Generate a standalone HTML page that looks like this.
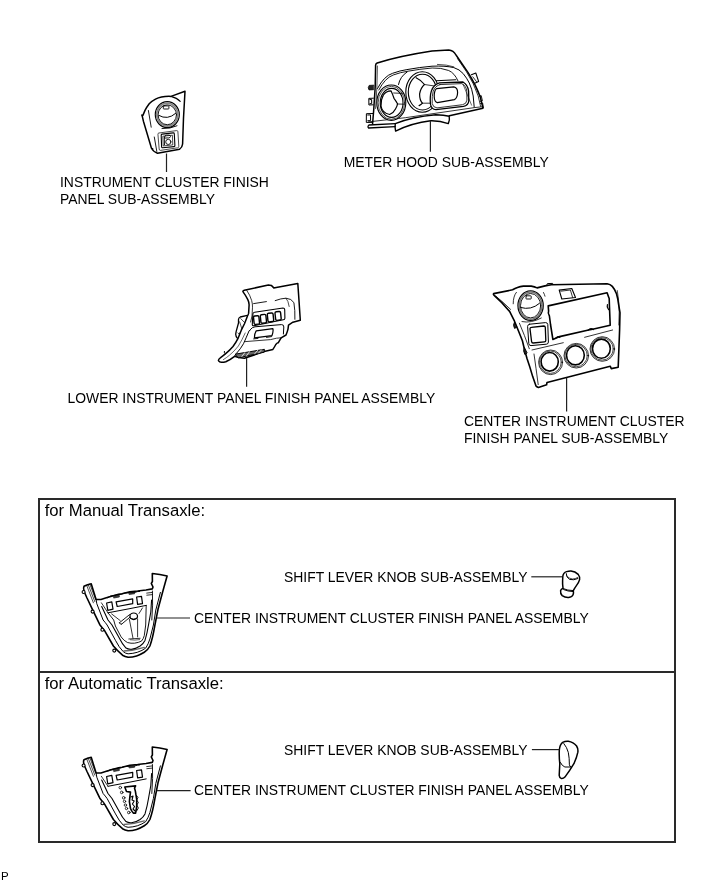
<!DOCTYPE html>
<html><head><meta charset="utf-8">
<style>
html,body{margin:0;padding:0;background:#fff;}
body{width:713px;height:882px;position:relative;overflow:hidden;will-change:transform;font-family:"Liberation Sans",sans-serif;color:#000;}
.t{position:absolute;white-space:nowrap;font-size:13.9px;line-height:13.9px;}
.h{position:absolute;white-space:nowrap;font-size:16.7px;line-height:16.7px;}
#box{position:absolute;left:38px;top:498px;width:634px;height:341px;border:2px solid #2a2a2a;}
#div{position:absolute;left:38px;top:671px;width:638px;height:2px;background:#2a2a2a;}
svg{position:absolute;left:0;top:0;}
</style></head><body>
<div id="box"></div>
<div id="div"></div>

<div class="t" style="left:60px;top:175.9px">INSTRUMENT CLUSTER FINISH</div>
<div class="t" style="left:60px;top:193.0px">PANEL SUB-ASSEMBLY</div>
<div class="t" style="left:343.7px;top:155.9px">METER HOOD SUB-ASSEMBLY</div>
<div class="t" style="left:67.5px;top:392.1px">LOWER INSTRUMENT PANEL FINISH PANEL ASSEMBLY</div>
<div class="t" style="left:464px;top:415.1px">CENTER INSTRUMENT CLUSTER</div>
<div class="t" style="left:464px;top:432.1px">FINISH PANEL SUB-ASSEMBLY</div>
<div class="h" style="left:44.7px;top:502.6px">for Manual Transaxle:</div>
<div class="t" style="left:284px;top:570.9px">SHIFT LEVER KNOB SUB-ASSEMBLY</div>
<div class="t" style="left:194px;top:612.3px">CENTER INSTRUMENT CLUSTER FINISH PANEL ASSEMBLY</div>
<div class="h" style="left:44.7px;top:676.3px">for Automatic Transaxle:</div>
<div class="t" style="left:284px;top:743.9px">SHIFT LEVER KNOB SUB-ASSEMBLY</div>
<div class="t" style="left:194px;top:783.8px">CENTER INSTRUMENT CLUSTER FINISH PANEL ASSEMBLY</div>
<div class="t" style="left:1px;top:871.1px;font-size:11.5px;line-height:11.5px">P</div>

<svg width="713" height="882" viewBox="0 0 713 882" fill="none" stroke="#000" stroke-width="1.1" stroke-linejoin="round" stroke-linecap="round">
<!-- P1 instrument cluster finish panel -->
<g id="p1">
<path d="M185,91.3 L171,96.4 C166,96.2 160,96.8 155.5,99.2 C152.5,100.8 150.6,102.4 149.2,103.8 C147.2,106.5 145.8,108.8 145,110.4 L142.9,115.4 L141.8,115.1 L142.3,116.4 L143.5,121.5 L151.4,148 C152.5,150.3 154.5,152 157.5,153.3 L179.6,149.2 C181.4,148 182.4,146.2 182.6,144 L183.5,118 Z" stroke-width="1.5"/>
<path d="M171,96.4 C175,97.4 178,99 180.2,101.4"/>
<path d="M148.4,110.5 L151.2,127.2 M154.3,137 L156.8,151.4" stroke-width="0.9"/>
<path d="M151.4,148 L152.8,148.8" stroke-width="1.2"/>
<ellipse cx="167.3" cy="114.6" rx="12" ry="12.9" stroke-width="1.2"/>
<ellipse cx="167.3" cy="114.6" rx="10.6" ry="11.4" stroke="#888" stroke-width="1.8"/>
<ellipse cx="167.3" cy="114.8" rx="9.2" ry="9.9" stroke-width="0.9"/>
<path d="M158.8,115.4 Q167.5,120.5 175.6,113.4" stroke-width="1"/>
<rect x="163.3" y="105.9" width="5.6" height="3.1" rx="0.6" stroke-width="0.9"/>
<path d="M162,128.6 Q170,129 177,125.8" stroke-width="0.9"/>
<path d="M157.9,134 Q157.8,133.2 158.8,133 L176.6,130.6 Q177.8,130.5 177.9,131.6 L178.8,146.4 Q178.9,147.6 177.7,147.8 L160.4,150.4 Q159.3,150.5 159.2,149.4 Z" stroke-width="0.7"/>
<path d="M161.2,135.2 Q161.1,134.2 162.1,134.1 L173.2,132.9 Q174.2,132.8 174.3,133.8 L174.9,145.5 Q175,146.5 174,146.6 L162.7,147.7 Q161.7,147.8 161.6,146.8 Z" stroke-width="1.1"/>
<path d="M163.2,136.2 L172.4,135.2 L172.8,144.9 L163.6,145.9 Z" stroke-width="0.7"/>
<path d="M164.3,137.6 L164.5,144.8 M164.4,137.4 Q164.3,135.3 166.6,135.2 L169,135.1 Q170.6,135.2 170.5,136.6 Q170.4,137.8 168.6,137.9 L164.4,138.1" stroke-width="0.9"/>
<circle cx="168.3" cy="141.9" r="2.6" stroke-width="0.9"/>
</g>
<!-- P2 meter hood -->
<g id="p2">
<path d="M372.6,123.8 L373.7,110 L375.2,87 L375.6,65.2 Q375.8,63.6 377.2,63 Q400,56 432,51.1 L448.7,50.1 Q453.5,50.6 456,55 L468.1,72.6 Q476,85 480.3,97.1 L483,108.3 L449.4,115.8" stroke-width="1.5"/>
<path d="M457.5,58.6 L466.4,71.6 Q474,83.4 478.2,96 L480.6,106.4" stroke-width="0.8"/>
<path d="M377.4,66 L376.9,87.5 L375.6,108.5" stroke-width="0.7"/>
<path d="M395.3,123.6 Q412,117 435.7,114.8 Q444,115 449.2,116.2 Q450,120 448.3,123.6 Q440,120.6 430.7,120.8 Q412,123 395.6,131.1 Q394.6,127 395.3,123.6 Z" stroke-width="1.4"/>
<path d="M395.3,123.6 L369,125 Q367.2,126.5 368.6,128 L395.2,126.6" stroke-width="1.3"/>
<path d="M368.4,121.9 L405.4,117.7 L474.4,107.6 L482,106.8" stroke-width="0.8"/>
<!-- left tabs -->
<path d="M373.5,85.2 L369.2,85.4 Q367.4,87.6 369,89.9 L373.3,89.7 Z" fill="#222" stroke-width="0.8"/>
<path d="M373.4,98.2 L368.8,98.4 L368.9,105 L373.2,104.8 M369.8,99.6 L371.6,99.5 L371.7,103.6 L369.9,103.7" stroke-width="1"/>
<path d="M372.8,113.5 L366.4,113.7 L366.3,122.4 L372.2,122.4 M367.7,115 L370.5,114.9 L370.6,120.6 L367.8,120.7" stroke-width="1"/>
<!-- right tabs -->
<path d="M471.4,74.8 L475.8,73 L478.6,81.4 L474.2,83.4" stroke-width="1.1"/>
<path d="M472.8,76.8 L476.5,81.6" stroke-width="0.8"/>
<path d="M479.3,96.2 L481.2,95.6 L482.4,100.8 L480.4,101.3 M480.5,103.5 L482.6,103 L483.4,107.6" stroke-width="0.9"/>
<!-- inner arcs -->
<path d="M377.5,88.5 Q384,76 392.6,73.3 Q400,70.6 406.9,69.6 Q420,67.2 432,66.2 Q445,65.6 453.8,67.6 Q459.5,69.3 463.2,73.6 Q466.8,78 469.3,83 Q472,89 473.2,96 L474.2,107.2" stroke-width="1"/>
<path d="M378.8,90 Q385,78 393.2,75 Q400.5,72.3 407.4,71.3 Q420,69 432.2,68 Q441,67.6 448.7,70.5 Q454.5,73 457.9,80.7" stroke-width="0.9"/>
<path d="M437.4,64.4 Q447,64.6 453.8,66.8" stroke-width="0.7"/>
<!-- left gauge -->
<ellipse cx="391.3" cy="102.7" rx="14.5" ry="17.7" fill="#fff" stroke-width="1.1"/>
<ellipse cx="391.4" cy="102.8" rx="13.3" ry="16.5" stroke-width="0.7"/>
<ellipse cx="391.6" cy="102.9" rx="11.4" ry="14.5" stroke-width="1.1"/>
<path d="M391.1,90.9 Q386,91 383.4,95 Q380.6,100 381,106 Q382,112.8 389.6,114.5 Q393.5,113 395.5,109 Q397.5,105.5 397.5,103.7 Q396,101 394,98.3 Q392.6,94 391.1,90.9 Z" stroke-width="1.2"/>
<path d="M393.6,93 L402.4,93.4 M397.5,104 L404.3,104.2" stroke-width="0.8"/>
<!-- middle gauge -->
<path d="M398.5,84.5 Q400,76.5 407.3,71.8" stroke-width="1"/>
<ellipse cx="422.3" cy="92" rx="16.5" ry="20.2" stroke-width="1.1"/>
<ellipse cx="422.5" cy="92.1" rx="14.2" ry="17.9" stroke-width="1.1"/>
<path d="M416.1,77.7 Q421,80 424.5,84.5 Q420.5,88 419.6,94 Q419.6,100.5 422.5,103.2 Q421,104.8 419.1,105.6" stroke-width="1.2"/>
<path d="M424.5,84.5 L437.7,86.5 M422.5,103.2 L437.7,103.2" stroke-width="0.8"/>
<!-- right display -->
<path d="M436.4,80.7 L455.8,79.7" stroke-width="1.1"/>
<path d="M439.5,82.9 L463,82 Q467.8,84.8 468.6,91 L468.8,100.8 Q468.4,105.5 463.4,106.4 L436,109.6 Q431.4,109.4 430.4,104 Q429.8,96 431.4,90.9 Q433.6,84.6 439.5,82.9 Z" fill="#fff" stroke-width="1.3"/>
<path d="M440,84.6 L461.8,83.6 Q466.4,86 466.8,91.4 L466.9,100.2 Q466.5,104 462.6,104.7 L437,107.9 Q433,107.6 432.2,103.5 Q431.8,96 433.2,91.2 Q435.2,85.8 440,84.6 Z" stroke-width="0.8"/>
<path d="M436.5,88.6 L453.8,86.9 Q457.6,87.6 457.6,92.6 Q457.4,98.4 454.4,99.6 L437.4,102.7 Q434.4,102.2 434.2,96.6 Q434.2,90.4 436.5,88.6 Z" stroke-width="1.2"/>
<path d="M463.1,84.4 L471.6,105.2" stroke-width="0.6"/>
</g>
<!-- P3 lower instrument panel finish panel -->
<g id="p3">
<!-- left box behind strip -->
<path d="M247.4,315.4 L240.2,317 Q238.6,317.6 238.5,319.5 L238.5,323 L236.2,331.4 L235.7,334.2 Q235.8,336.4 237.3,338.1" stroke-width="1.3"/>
<path d="M240.7,318.6 L244.6,322.6 M239.6,321.8 L241.8,328.6 M237.9,333 L239.2,334.2 L240.2,332.4" stroke-width="0.7"/>
<!-- main outline -->
<path d="M244.3,290.3 Q242.8,290.8 242.9,291.6 Q245.8,295.5 247.8,299.6 Q249.2,302.5 249.1,305 L248.6,313.4 Q248.2,315 247.4,316.2 L244.6,323.5 L241.3,330.2 L237.9,338.7 Q236,342.5 233,346.5 Q229.5,350.5 226.8,352.6 Q223.5,355.5 220.9,357.3 Q217.8,359.5 218.6,360.9 Q219.5,362.4 221.5,362.3 Q224,362.2 225.8,361.7 Q230.5,359.6 234.6,356.3 L238.6,357.5 L244.4,358.3 L256.2,354.3 L264.1,351.4 L272.9,349.4 Q274.5,347 275.8,344.5 Q277.5,342.6 278.2,342.8 L281.1,337.9 L286,335 Q287.3,332 288,329.1 L288.5,325.1 L292.9,322.2 L300.3,320.2 L298.8,297.7 L297.8,283.4 L276.2,287.4 L273.8,287.9 L271.3,285.4 L268.4,284.9 L244.3,290.3 Z" stroke-width="1.5"/>
<!-- strip inner lines -->
<path d="M246.8,290.4 Q250,295 251.7,300.6 Q252.6,304 252.5,307.2 L252,316 L250.6,322" stroke-width="0.8"/>
<path d="M250.5,329.8 L249.1,330.8 Q246.5,337 243.5,343.7 Q240.5,349 236.5,353.3 Q235.2,355 234.6,356.3" stroke-width="1"/>
<path d="M245.2,333 Q242,340 238.4,346 Q234,351.5 229.5,355.2 Q226.5,357.8 223.4,359.6" stroke-width="0.6"/>
<path d="M224.3,351.4 Q223.6,353 225.2,353.7" stroke-width="1"/>
<!-- top crease -->
<path d="M253.6,303.6 L266.4,301.6" stroke-width="0.9"/>
<path d="M275.2,300.6 Q281,298.4 286,298.2 Q291.5,298.6 293.9,302.6 Q295.2,310 294.9,319.3" stroke-width="0.9"/>
<path d="M286,298.2 Q288.3,300.5 289.2,306.5" stroke-width="0.7"/>
<!-- button bezel -->
<path d="M254.6,312.2 L283,308 Q284.6,308 284.7,309.6 L284.9,318.2 Q284.8,319.6 283.3,319.8 L253.9,325.8 Q252.2,326 252.3,324.3 L252.9,313.8 Q253.1,312.4 254.6,312.2 Z" stroke-width="1.1"/>
<rect x="253.8" y="315.9" width="5.4" height="8.4" rx="1.3" transform="rotate(-6 256.5 320)" stroke-width="1.4"/>
<rect x="260.6" y="314.5" width="5.6" height="8.6" rx="1.3" transform="rotate(-6 263.4 318.8)" stroke-width="1.4"/>
<rect x="267.6" y="313.1" width="5.8" height="8.6" rx="1.3" transform="rotate(-6 270.5 317.4)" stroke-width="1.4"/>
<rect x="275.3" y="311.6" width="5.6" height="8.6" rx="1.3" transform="rotate(-6 278.1 315.9)" stroke-width="1.4"/>
<!-- switch bezel -->
<path d="M250.5,329.4 Q252,327.2 255,326.8 L281.5,324.6 Q284,324.6 283.8,327 L283.4,334" stroke-width="1"/>
<path d="M256.2,330.8 L272.9,328.6 Q273.6,331 271.9,335.7 L254.4,337.8 Q254.4,333.5 256.2,330.8 Z" stroke-width="1.2"/>
<path d="M253.6,338.9 L258,338.4 M266.5,337.4 L271.5,336.6" stroke-width="0.9"/>
<path d="M245.4,341.6 L270.6,339.6 Q276.5,337.8 281.7,337.7" stroke-width="0.8"/>
<!-- bottom tray -->
<path d="M235.6,354.1 L264.4,349.3 L264.2,352.2 L238.6,357.8 Z" fill="#666" stroke-width="1"/>
<path d="M241.8,356.6 L244.8,352.6 M246.6,355.6 L249.6,351.6 M254.6,353.9 L257.6,350.4 M258.6,353 L261.6,349.8" stroke="#fff" stroke-width="0.8"/>
</g>
<!-- P4 center instrument cluster finish panel sub-assy -->
<g id="p4">
<path d="M493.6,293.6 L512.6,289.8 Q515,288.4 517.5,287.4 Q520,286.5 523.4,286.1 L531.2,286.1 Q534.6,286.7 537.1,287.9 L545,285.9 L551.3,284.8 L607.1,283.8 Q610.3,284.3 612.3,286.4 Q615,289.5 616.5,293.8 Q618,299 618.6,304.3 L620,312.7 L619.6,330 L618.2,367.3 L611.3,368.6 L610.2,366.2 L547,382.4 L546.6,384.8 L538.4,387.4 Q536.6,386.8 536,386 L532.7,376.6 Q530,367 527,358.5 L524.3,348.7 L522.4,340.8 L518.5,331 L514.5,321.2 L509.6,311.4 L501.8,302.6 L494.4,295.6 Q493,294.6 493.6,293.6 Z" stroke-width="1.6"/>
<path d="M546.9,284.8 L547.4,283.6 L552.6,283.4 L553,284.6" stroke-width="1"/>
<path d="M514.2,322.6 Q512.6,325.4 514.6,328.4 L516.6,327.2 Z M524.2,347.8 Q522.8,351 524.8,354.4 L526.8,353.2 Z" fill="#222" stroke-width="1"/>
<path d="M495.9,296.2 Q503,302 510.6,309.4" stroke-width="0.8"/>
<path d="M519.4,323.2 Q524.5,335 529.3,348.7 M534,354 Q536,368 538.2,384.6" stroke-width="0.8"/>
<path d="M532,350 L563.3,342.7 M584.6,337.3 L612.6,330" stroke-width="0.8"/>
<path d="M617.3,290.5 Q619,300 619.2,312 L618.8,325" stroke-width="0.7"/>
<!-- vent -->
<path d="M513.2,303.8 Q513.2,296 516.4,292.3 M543.5,292.5 Q544.6,294.5 545,296.2" stroke-width="0.8"/>
<ellipse cx="530.6" cy="305.6" rx="12.6" ry="14.8" stroke-width="1.3"/>
<ellipse cx="530.6" cy="305.6" rx="11.4" ry="13.6" stroke="#777" stroke-width="1.6"/>
<ellipse cx="530.6" cy="305.7" rx="10.1" ry="12.2" stroke-width="0.9"/>
<path d="M520.6,307.5 Q531,310.6 539.4,303.4" stroke-width="1"/>
<rect x="526" y="295.8" width="5.2" height="3.2" rx="0.5" stroke-width="0.9"/>
<path d="M522,321.6 Q531,323.5 541.3,318" stroke-width="0.8"/>
<!-- small square -->
<path d="M529.6,324.2 L545.6,322.6 Q547.6,322.6 547.8,324.6 L548.4,342 Q548.4,344 546.4,344.2 L531,345.6 Q529,345.6 528.8,343.6 L527.6,326.4 Q527.6,324.4 529.6,324.2 Z" stroke-width="1"/>
<path d="M531.4,327.4 L543.8,326 Q545.2,326 545.3,327.4 L545.8,340.4 Q545.8,341.8 544.4,341.9 L533.2,343 Q531.8,343.1 531.6,341.7 L530,328.9 Q529.9,327.5 531.4,327.4 Z" stroke-width="1.3"/>
<!-- screen -->
<path d="M548.2,305.9 L607.1,292.7 Q608.2,296 609.2,298.5 L609.4,305 L610.2,325.3 L592.6,329.2 L588.6,330 L559.6,336.6 L552.9,339.5 L550.6,325 L549.4,316 Q547.6,313.2 548.6,311 Z" stroke-width="1.6"/>
<path d="M555.6,338.4 Q557.4,335.6 559.8,337.4 M588.2,330.2 Q590.6,327.4 593.4,329.6" stroke-width="1.2"/>
<path d="M607.4,304.6 Q606.4,307.2 608.6,309.6" fill="#333" stroke-width="1.2"/>
<!-- top tab -->
<path d="M559.2,290.1 L571.8,288.5 L575.5,297.5 L561.8,299 Z" stroke-width="1.1"/>
<path d="M560.8,291.2 L570.4,290 L572.6,297.4" stroke-width="0.8"/>
<!-- knobs -->
<ellipse cx="550.6" cy="362.3" rx="12" ry="12.3" stroke-width="0.8"/>
<ellipse cx="550.4" cy="362.2" rx="10.9" ry="11.2" stroke-width="0.7"/>
<ellipse cx="549.7" cy="361.8" rx="8.6" ry="9.3" stroke-width="1.6"/>
<ellipse cx="576.3" cy="355.7" rx="12.3" ry="12.3" stroke-width="0.8"/>
<ellipse cx="576.1" cy="355.6" rx="11.2" ry="11.2" stroke-width="0.7"/>
<ellipse cx="575.4" cy="355.3" rx="8.9" ry="9.6" stroke-width="1.6"/>
<ellipse cx="602.3" cy="349" rx="12.3" ry="12.3" stroke-width="0.8"/>
<ellipse cx="602.1" cy="348.9" rx="11.2" ry="11.2" stroke-width="0.7"/>
<ellipse cx="601.4" cy="348.7" rx="8.9" ry="9.6" stroke-width="1.6"/>
</g>
<!-- console frame (manual coords) -->
<g id="cf">
<path d="M84,586.2 Q87.5,584.3 91.2,583.7 L96.1,599.5 L101,599.5 Q105,598.4 108,597.3 L115.1,595.2 Q118.5,594.2 122.1,593.8 L129.9,591.7 L137.6,591 L146,590 L152.3,588.9 L153,587 L151.3,583.3 L152.4,581.5 L152.3,573.5 Q160,574.2 167.1,576 L162.9,591 L158,609.3 L154.8,625.7 Q152.8,638 149.9,646 Q147.6,650.4 144.3,652.3 Q140.6,654.6 136.6,655.9 Q132,657.4 128.1,657.3 Q125,656.6 122.5,655.2 Q117.6,651 113.4,646 L105,631.3 L99.8,624.7 L92.9,610.4 L87,598 L84.2,591.7 Q83,588 84,586.2 Z" stroke-width="1.6"/>
<!-- left arm hatch -->
<path d="M86.6,585.2 L93.4,602.8 M88.2,584.6 L94.8,601.6 M89.8,584.1 L95.6,599.4" stroke-width="0.7"/>
<!-- bolts -->
<circle cx="83.6" cy="592" r="1.5" fill="#fff" stroke-width="1.1"/>
<circle cx="92.6" cy="611.6" r="1.5" fill="#fff" stroke-width="1.1"/>
<circle cx="102.4" cy="629.8" r="1.5" fill="#fff" stroke-width="1.1"/>
<circle cx="114.3" cy="650.6" r="1.5" fill="#fff" stroke-width="1.1"/>
<!-- rim lines -->
<path d="M96.1,599.5 L96.8,603.7 L103.1,620 Q105.4,622.6 107.1,625 L115.5,640.4 Q119,647.4 123.2,651.6 Q125.6,653.6 128.1,653.8 Q133,653.6 137.3,652.3 Q142.4,650.6 145.7,648.1 Q148.4,644 149.9,639 L153.4,625 L155.8,610 L160.4,592.4" stroke-width="1"/>
<path d="M123.9,651 Q134,650.6 144.3,647.4" stroke="#666" stroke-width="1.4"/>
<path d="M101.7,606.5 L108,620 L112,625 L119,637.6 Q122.4,644.6 126,648.1 Q128.6,649.6 131.6,649.2 Q136.6,648.4 140.1,646 Q143.4,643.6 145,640.4 Q147.2,633 148.5,625 L150.8,612 L151.6,600" stroke-width="1.1"/>
<path d="M152.4,591 L152.6,605.1 L151.8,620" stroke-width="0.9"/>
<!-- top panel -->
<path d="M108,612.8 L130,608.6 L146.2,605.4" stroke-width="1"/>
<path d="M101.4,602.8 L108,612.8" stroke-width="0.8"/>
<path d="M106.6,603 L111.8,601.9 L113,609.2 L107.8,610.3 Z" stroke-width="1.2"/>
<path d="M116.1,601.9 L132.7,598.8 L132.7,603.7 L117.2,606.5 Z" stroke-width="1.2"/>
<path d="M136.6,597 L141.5,596.3 L142.5,603.6 L137.6,604.4 Z" stroke-width="1.2"/>
<path d="M107.8,597.6 Q110,595.6 113,595.6 L120.8,594.4 Q124,592.6 128,592.8 L135,592.4 Q137,591.4 139.6,591.4" stroke-width="1"/>
<path d="M113.8,596.2 L119.2,595.2 L119.4,597 L114,598 Z M129.2,592.9 L134.4,592.3 L134.6,593.8 L129.4,594.4 Z" fill="#444" stroke-width="0.6"/>
<path d="M146.7,593.1 L152.3,592.4 M146.8,595.2 L152.4,594.6" stroke-width="0.8"/>
</g>
<use href="#cf" transform="translate(0,173.5)"/>
<!-- manual boot -->
<g id="mboot">
<path d="M108,612.8 L113.7,620 L115.4,626 L121.1,636.9 Q124,640.8 127.4,642.5 Q131,643.6 134.5,643.2 Q138.6,642.6 141.5,641.1 Q143.6,638.6 144.3,635.5 L145.7,625 L146.2,605.4" stroke-width="0.9"/>
<ellipse cx="133.7" cy="616.3" rx="3.8" ry="3.3" stroke-width="1.2"/>
<path d="M130,618.2 Q133.6,620.2 137.4,618" stroke-width="0.8"/>
<path d="M129.4,619.4 L133,638.3 M137.6,619 L137.6,636.9 M128.8,639 L140.1,638.3" stroke-width="0.8"/>
<path d="M130.4,639.8 Q134.5,640.6 139.6,639.6" stroke-width="0.6"/>
<path d="M119.4,622.8 L129.6,614.6 M121.6,624.2 L130.2,617" stroke-width="0.9"/>
<path d="M111.6,613.9 L120.2,620.6 M139,613.5 L142.5,607.9" stroke-width="0.8"/>
<path d="M119.4,622.8 Q120,624.8 121.6,624.2" stroke-width="0.9"/>
</g>
<!-- auto gate -->
<g id="agate">
<path d="M124.8,787 L135.6,785.9 L134.5,788.1 Q135.5,791 135.9,794.4 L136.7,799.5 L136.7,806.3 L135.6,813.1 L133.3,813.1 Q131.5,811 130.5,808.5 L129.4,801.7 L129.9,796.6 L130.5,792.1 L126.5,791.5 Z" stroke-width="1.6"/>
<path d="M131,797 L133,796 L132,800 L134.2,801 L132.4,804 L134.6,806.5 L133,809 L135,811" stroke-width="1.1"/>
<path d="M136.2,795 L138,797.5 L136.6,800 L138.4,802.5 L136.8,805 L138.4,808 L136.6,811" stroke-width="0.9"/>
<circle cx="120.3" cy="787.6" r="1.3" stroke-width="0.8"/>
<circle cx="121.7" cy="792.4" r="1.3" stroke-width="0.8"/>
<circle cx="123.7" cy="797.8" r="1.3" stroke-width="0.8"/>
<circle cx="124.5" cy="801.4" r="1.2" stroke-width="0.8"/>
<circle cx="125.4" cy="805.1" r="1.2" stroke-width="0.8"/>
<circle cx="126.5" cy="808.5" r="1.2" stroke-width="0.8"/>
<circle cx="128.8" cy="812.5" r="1.3" stroke-width="0.8"/>
</g>
<!-- manual knob -->
<g id="mknob">
<path d="M562.8,576.4 Q563.2,572.6 566.6,571.6 Q569,570.9 571,571 Q575.2,571.4 578.2,574.4 Q580.2,577 579.6,579.6 Q578.8,582.6 576.4,585.6 Q574.6,588 573.3,590.7 Q573.8,593 573.1,594.6 Q572.4,597 568.6,597.4 Q565,597.6 562.2,595.6 Q560.2,593.6 560.6,590.6 Q561.2,589 563,588.2 Q562.4,584 562.6,580.8 Z" stroke-width="1.5"/>
<path d="M566.2,573.6 Q566,577.4 569.6,579.4 Q573.6,580.6 577.8,578.6" stroke-width="1"/>
<path d="M566.8,575.8 Q568.6,578.8 572.6,579 Q575.6,578.8 577.8,577.4" stroke-width="0.7"/>
<path d="M563.2,588.6 Q567.4,590.6 573.2,590.6 M563.6,589.6 Q567.8,591.4 573,591.6" stroke-width="1"/>
</g>
<!-- auto knob -->
<g id="aknob">
<path d="M562.6,742.3 Q565.4,740.9 568.3,741.2 Q573.4,742 576.6,746 Q578.4,749 577.8,752.4 Q576.8,757.4 573.9,763.7 Q569.6,771 564.9,777.1 Q563.3,778.8 561.5,778.6 Q559.4,778 559.2,775.4 L559.8,763.7 Q559,757 559.3,750.2 Q559.8,744.4 562.6,742.3 Z" stroke-width="1.5"/>
<path d="M563.8,743.5 Q567,747.4 568.3,752.4 Q569.4,758 569.4,764.8 Q569.8,767 571,767" stroke-width="1"/>
<path d="M560.4,762.5 Q562,766 564.9,767 L570.5,767" stroke-width="1"/>
</g>
<!-- leaders -->
<g stroke-width="1.2" stroke="#222" stroke-linecap="butt">
<line x1="166.5" y1="153.5" x2="166.5" y2="172"/>
<line x1="430.4" y1="120.5" x2="430.4" y2="151.8"/>
<line x1="246.6" y1="358" x2="246.6" y2="386.8"/>
<line x1="566.6" y1="377.8" x2="566.6" y2="411.4"/>
<line x1="531.3" y1="576.8" x2="562.6" y2="576.8"/>
<line x1="157" y1="618" x2="190" y2="618"/>
<line x1="531.9" y1="749.6" x2="559.6" y2="749.6"/>
<line x1="157" y1="790.6" x2="190.6" y2="790.6"/>
</g>
</svg>
</body></html>
